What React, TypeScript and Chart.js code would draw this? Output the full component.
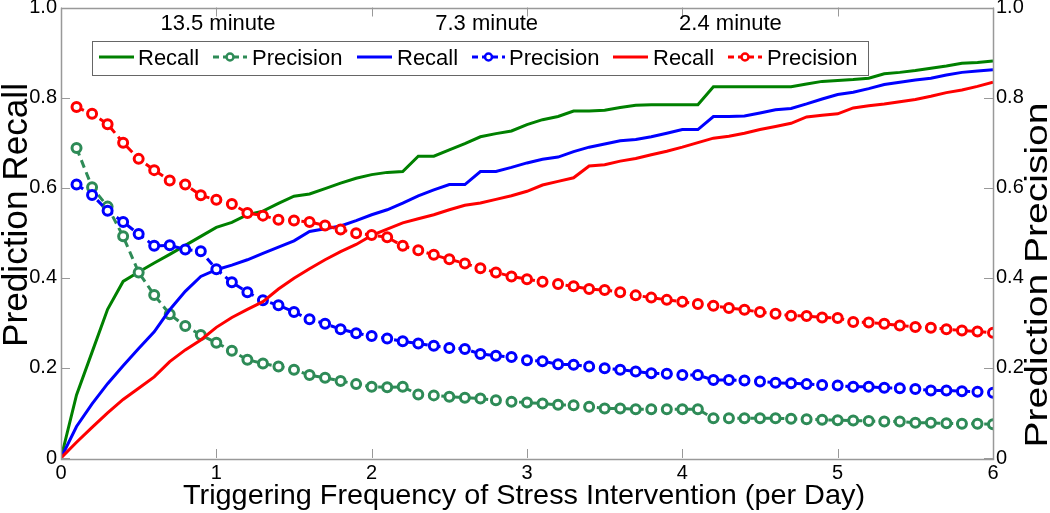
import { useEffect, useRef } from "react";
import { Chart, registerables } from "chart.js";

Chart.register(...registerables);

// ---------- data ----------
const freqRecall: number[] = Array.from({ length: 61 }, (_, i) => Math.round(i) / 10);
const freqPrecision: number[] = freqRecall.slice(1);

const recallGreen = [
  0, 0.14, 0.235, 0.33, 0.392, 0.413, 0.433, 0.452, 0.472, 0.492,
  0.512, 0.523, 0.54, 0.548, 0.565, 0.581, 0.586, 0.598, 0.61, 0.621,
  0.629, 0.634, 0.636, 0.67, 0.67, 0.684, 0.698, 0.713, 0.72, 0.726,
  0.74, 0.751, 0.758, 0.77, 0.77, 0.772, 0.778, 0.783, 0.784, 0.784,
  0.784, 0.784, 0.824, 0.824, 0.824, 0.824, 0.824, 0.824, 0.83, 0.836,
  0.838, 0.84, 0.843, 0.853, 0.856, 0.86, 0.865, 0.87, 0.876, 0.878, 0.881,
];
const recallBlue = [
  0, 0.07, 0.12, 0.165, 0.205, 0.243, 0.28, 0.329, 0.37, 0.403,
  0.418, 0.428, 0.44, 0.454, 0.468, 0.482, 0.503, 0.509, 0.515, 0.527,
  0.54, 0.551, 0.566, 0.582, 0.595, 0.607, 0.607, 0.636, 0.636, 0.645,
  0.655, 0.663, 0.668, 0.68, 0.69, 0.697, 0.704, 0.707, 0.713, 0.721,
  0.729, 0.729, 0.758, 0.758, 0.759, 0.766, 0.773, 0.776, 0.786, 0.797,
  0.807, 0.812, 0.82, 0.829, 0.834, 0.839, 0.843, 0.85, 0.856, 0.859, 0.862,
];
const recallRed = [
  0, 0.035, 0.068, 0.1, 0.13, 0.155, 0.18, 0.214, 0.24, 0.262,
  0.29, 0.312, 0.33, 0.347, 0.375, 0.399, 0.42, 0.44, 0.458, 0.474,
  0.494, 0.508, 0.522, 0.531, 0.54, 0.551, 0.561, 0.566, 0.574, 0.582,
  0.592, 0.606, 0.614, 0.622, 0.648, 0.651, 0.659, 0.665, 0.673, 0.681,
  0.69, 0.7, 0.71, 0.714, 0.721, 0.729, 0.736, 0.743, 0.757, 0.761,
  0.764, 0.777, 0.782, 0.786, 0.791, 0.796, 0.803, 0.811, 0.817, 0.825, 0.834,
];
const precisionGreen = [
  0.688, 0.601, 0.558, 0.492, 0.412, 0.362, 0.319, 0.293, 0.273, 0.256,
  0.238, 0.218, 0.21, 0.203, 0.196, 0.184, 0.178, 0.171, 0.164, 0.158,
  0.157, 0.158, 0.141, 0.139, 0.136, 0.134, 0.132, 0.128, 0.125, 0.123,
  0.121, 0.118, 0.117, 0.114, 0.11, 0.11, 0.108, 0.108, 0.108, 0.108,
  0.108, 0.088, 0.088, 0.088, 0.088, 0.088, 0.087, 0.086, 0.085, 0.084,
  0.083, 0.082, 0.081, 0.081, 0.078, 0.078, 0.077, 0.076, 0.076, 0.075,
];
const precisionBlue = [
  0.607, 0.584, 0.549, 0.524, 0.497, 0.471, 0.472, 0.463, 0.459, 0.419,
  0.39, 0.368, 0.35, 0.339, 0.324, 0.308, 0.298, 0.286, 0.277, 0.271,
  0.265, 0.259, 0.254, 0.249, 0.244, 0.242, 0.231, 0.227, 0.224, 0.217,
  0.215, 0.208, 0.207, 0.203, 0.199, 0.196, 0.192, 0.188, 0.187, 0.184,
  0.184, 0.173, 0.173, 0.172, 0.17, 0.167, 0.166, 0.164, 0.162, 0.161,
  0.158, 0.158, 0.156, 0.155, 0.153, 0.15, 0.15, 0.148, 0.147, 0.145,
];
const precisionRed = [
  0.779, 0.764, 0.741, 0.7, 0.664, 0.639, 0.616, 0.607, 0.583, 0.573,
  0.564, 0.544, 0.538, 0.529, 0.527, 0.524, 0.516, 0.507, 0.499, 0.495,
  0.49, 0.471, 0.461, 0.451, 0.441, 0.432, 0.421, 0.412, 0.403, 0.397,
  0.391, 0.386, 0.381, 0.375, 0.373, 0.368, 0.361, 0.356, 0.351, 0.347,
  0.342, 0.338, 0.333, 0.329, 0.324, 0.32, 0.316, 0.315, 0.312, 0.311,
  0.302, 0.301, 0.298, 0.294, 0.291, 0.289, 0.286, 0.283, 0.281, 0.278,
];

const seriesLabels = ["Recall", "Precision", "Recall", "Precision", "Recall", "Precision"];
const xTickValues = [0, 1, 2, 3, 4, 5, 6];
const yTickValues = [0, 0.2, 0.4, 0.6, 0.8, 1];
const annotationTexts = ["13.5 minute", "7.3 minute", "2.4 minute"];
const annotationX = [1.01, 2.74, 4.31];
const annotationY = 0.951;

const xTitle = "Triggering Frequency of Stress Intervention (per Day)";
const yLeftTitle = "Prediction Recall";
const yRightTitle = "Prediction Precision";

// ---------- styles ----------
const FONT = '"Liberation Sans", Arial, Helvetica, sans-serif';
const GREEN = "#008000";
const SEAGREEN = "#2E8B57";
const BLUE = "#0000FF";
const RED = "#FF0000";
const AXIS_GREY = "#999999";
const colors = [GREEN, SEAGREEN, BLUE, BLUE, RED, RED];

function toXY(xs: number[], ys: number[]) {
  return ys.map((v, i) => ({ x: xs[i], y: v }));
}

function drawFitted(
  ctx: CanvasRenderingContext2D,
  text: string,
  x: number,
  y: number,
  rot: number,
  size: number,
  targetLen: number
) {
  ctx.save();
  ctx.font = `${size}px ${FONT}`;
  ctx.textAlign = "center";
  ctx.textBaseline = "alphabetic";
  const w = ctx.measureText(text).width;
  ctx.translate(x, y);
  ctx.rotate(rot);
  ctx.scale(targetLen / w, 1);
  ctx.fillStyle = "#000";
  ctx.fillText(text, 0, 0);
  ctx.restore();
}

const framePlugin = {
  id: "frame",
  afterDatasetsDraw(chart: any) {
    const { ctx, chartArea: a, scales } = chart;
    const xs = scales.x;
    const ys = scales.y;
    ctx.save();
    // inward tick marks
    ctx.strokeStyle = AXIS_GREY;
    ctx.lineWidth = 1;
    ctx.beginPath();
    for (const v of xTickValues) {
      const px = Math.round(xs.getPixelForValue(v)) + 0.5;
      ctx.moveTo(px, a.bottom);
      ctx.lineTo(px, a.bottom - 9);
      ctx.moveTo(px, a.top);
      ctx.lineTo(px, a.top + 9);
    }
    for (const v of yTickValues) {
      const py = Math.round(ys.getPixelForValue(v)) + 0.5;
      ctx.moveTo(a.left, py);
      ctx.lineTo(a.left + 9, py);
      ctx.moveTo(a.right, py);
      ctx.lineTo(a.right - 9, py);
    }
    ctx.stroke();
    ctx.lineWidth = 1.5;
    ctx.strokeRect(Math.round(a.left) + 0.5, Math.round(a.top) + 0.5, Math.round(a.right - a.left), Math.round(a.bottom - a.top));

    // top annotations
    ctx.fillStyle = "#000";
    ctx.font = `22px ${FONT}`;
    ctx.textAlign = "center";
    ctx.textBaseline = "alphabetic";
    annotationTexts.forEach((t, i) => {
      ctx.fillText(t, xs.getPixelForValue(annotationX[i]), ys.getPixelForValue(annotationY));
    });

    // legend box
    const box = { l: 92, t: 41, r: 868, b: 75 };
    ctx.fillStyle = "#fff";
    ctx.fillRect(box.l, box.t, box.r - box.l, box.b - box.t);
    ctx.strokeStyle = "#666";
    ctx.lineWidth = 1;
    ctx.strokeRect(box.l + 0.5, box.t + 0.5, box.r - box.l, box.b - box.t);
    const samples = [
      [99, 134, 138],
      [213, 247, 252],
      [357, 392, 397],
      [472, 505, 509],
      [613, 648, 653],
      [728, 762, 767],
    ];
    const ly = 57;
    samples.forEach((s, i) => {
      const isPrec = i % 2 === 1;
      ctx.strokeStyle = colors[i];
      ctx.lineWidth = 3;
      ctx.setLineDash(isPrec ? [6, 4] : []);
      ctx.beginPath();
      ctx.moveTo(s[0], ly);
      ctx.lineTo(s[1], ly);
      ctx.stroke();
      ctx.setLineDash([]);
      if (isPrec) {
        ctx.beginPath();
        ctx.arc((s[0] + s[1]) / 2, ly, 3.5, 0, Math.PI * 2);
        ctx.fillStyle = "#fff";
        ctx.fill();
        ctx.lineWidth = 2.5;
        ctx.stroke();
      }
      ctx.fillStyle = "#000";
      ctx.font = `22px ${FONT}`;
      ctx.textAlign = "left";
      ctx.textBaseline = "alphabetic";
      ctx.fillText(seriesLabels[i], s[2], 65);
    });
    ctx.restore();

    // axis titles
    drawFitted(ctx, xTitle, 524, 504, 0, 28, 682);
    drawFitted(ctx, yLeftTitle, 27, 215, -Math.PI / 2, 35, 264);
    drawFitted(ctx, yRightTitle, 1047, 275, -Math.PI / 2, 32, 345);
  },
};

function fixSize(w: number | null, h: number | null) {
  return (scale: any) => {
    if (w !== null) scale.width = w;
    if (h !== null) scale.height = h;
    scale.paddingTop = 0;
    scale.paddingBottom = 0;
    scale.paddingLeft = 0;
    scale.paddingRight = 0;
  };
}

export default function App() {
  const ref = useRef<HTMLCanvasElement | null>(null);

  useEffect(() => {
    document.body.style.margin = "0";
    const canvas = ref.current;
    if (!canvas) return;

    const recallSets = [recallGreen, recallBlue, recallRed];
    const precSets = [precisionGreen, precisionBlue, precisionRed];
    const datasets: any[] = [];
    for (let k = 0; k < 3; k++) {
      datasets.push({
        label: seriesLabels[2 * k],
        data: toXY(freqRecall, recallSets[k]),
        borderColor: colors[2 * k],
        backgroundColor: colors[2 * k],
        borderWidth: 3,
        pointRadius: 0,
        tension: 0,
        yAxisID: "y",
        order: 10 - 2 * k,
      });
      datasets.push({
        label: seriesLabels[2 * k + 1],
        data: toXY(freqPrecision, precSets[k]),
        borderColor: colors[2 * k + 1],
        backgroundColor: colors[2 * k + 1],
        borderWidth: 3,
        borderDash: [8, 5],
        pointRadius: 4.5,
        pointBorderWidth: 3,
        pointBackgroundColor: "#ffffff",
        pointBorderColor: colors[2 * k + 1],
        tension: 0,
        yAxisID: "y2",
        order: 9 - 2 * k,
      });
    }

    const tickFont = { family: FONT, size: 20 };
    const chart = new Chart(canvas, {
      type: "line",
      data: { datasets },
      plugins: [framePlugin],
      options: {
        animation: false,
        responsive: false,
        devicePixelRatio: 1,
        layout: { padding: { top: 7, left: 0, right: 0, bottom: 0 } },
        plugins: { legend: { display: false }, tooltip: { enabled: false } },
        scales: {
          x: {
            type: "linear",
            min: 0,
            max: 6,
            grid: { display: false, drawTicks: false },
            border: { display: false },
            ticks: { stepSize: 1, font: tickFont, color: "#000", padding: 3, maxRotation: 0 },
            afterFit: fixSize(null, 55),
          },
          y: {
            type: "linear",
            position: "left",
            min: 0,
            max: 1,
            grid: { display: false, drawTicks: false },
            border: { display: false },
            ticks: { stepSize: 0.2, font: tickFont, color: "#000", padding: 4 },
            afterFit: fixSize(61, null),
          },
          y2: {
            type: "linear",
            position: "right",
            min: 0,
            max: 1,
            grid: { display: false, drawTicks: false },
            border: { display: false },
            ticks: { stepSize: 0.2, font: tickFont, color: "#000", padding: 3 },
            afterFit: fixSize(57, null),
          },
        },
      } as any,
    });
    return () => chart.destroy();
  }, []);

  return (
    <div style={{ width: 1050, height: 513, position: "relative" }}>
      <canvas ref={ref} width={1050} height={513} style={{ display: "block" }} />
    </div>
  );
}
